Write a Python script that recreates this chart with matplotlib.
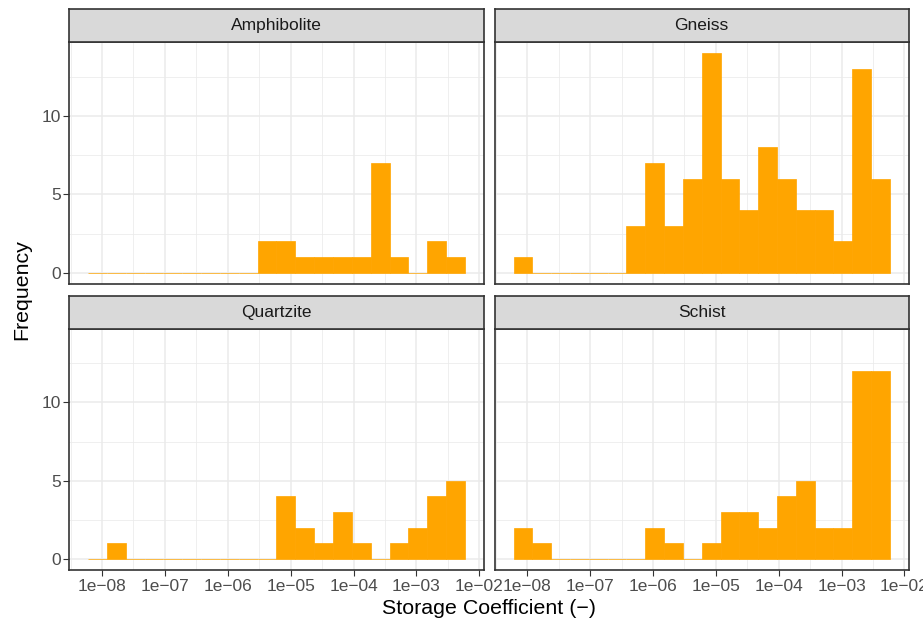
import numpy as np
import matplotlib.pyplot as plt

# histogram data: 20 bins over log10(storage coefficient)
log_lo, log_hi, n_bins = -8.22, -2.23, 20
facets = ["Amphibolite", "Gneiss", "Quartzite", "Schist"]
amphibolite = [0, 0, 0, 0, 0, 0, 0, 0, 0, 2, 2, 1, 1, 1, 1, 7, 1, 0, 2, 1]
gneiss = [1, 0, 0, 0, 0, 0, 3, 7, 3, 6, 14, 6, 4, 8, 6, 4, 4, 2, 13, 6]
quartzite = [0, 1, 0, 0, 0, 0, 0, 0, 0, 0, 4, 2, 1, 3, 1, 0, 1, 2, 4, 5]
schist = [2, 1, 0, 0, 0, 0, 0, 2, 1, 0, 1, 3, 3, 2, 4, 5, 2, 2, 12, 12]
counts = [amphibolite, gneiss, quartzite, schist]

x_breaks = [-8, -7, -6, -5, -4, -3, -2]
x_labels = ["1e\u221208", "1e\u221207", "1e\u221206", "1e\u221205", "1e\u221204", "1e\u221203", "1e\u221202"]
y_breaks = [0, 5, 10]

plt.rcParams['font.family'] = ['Liberation Sans', 'DejaVu Sans']

W, H = 923, 622
fig = plt.figure(figsize=(W / 100, H / 100), dpi=100)

edges = np.linspace(log_lo, log_hi, n_bins + 1)
bw = edges[1] - edges[0]
xlim = (log_lo - bw, log_hi + bw)
ymax = max(max(c) for c in counts)
ylim = (-0.05 * ymax, 1.05 * ymax)

# panel boxes in pixels
col_x = [(69.3, 483.7), (494.7, 908.7)]
row_y = [(42.3, 283.7), (328.7, 570.0)]
strip_h = 33.0

for i, name in enumerate(facets):
    r, c = divmod(i, 2)
    x0, x1 = col_x[c]
    y0, y1 = row_y[r]
    ax = fig.add_axes([x0 / W, 1 - y1 / H, (x1 - x0) / W, (y1 - y0) / H])

    ax.bar(edges[:-1], counts[i], width=bw, align='edge', color='#FFA500',
           edgecolor='#FFA500', linewidth=0.5, zorder=3)

    ax.set_xticks(x_breaks)
    ax.set_xticks([b + 0.5 for b in [-9] + x_breaks[:-1]], minor=True)
    ax.set_yticks(y_breaks)
    ax.set_yticks([2.5, 7.5, 12.5], minor=True)
    ax.set_xlim(xlim)
    ax.set_ylim(ylim)
    ax.grid(which='major', color='#EBEBEB', linewidth=1.1, zorder=0)
    ax.grid(which='minor', color='#EBEBEB', linewidth=0.55, zorder=0)
    ax.set_axisbelow(True)
    for s in ax.spines.values():
        s.set_color('#333333')
        s.set_linewidth(1.2)
        s.set_zorder(5)

    ax.tick_params(which='minor', length=0)
    ax.tick_params(which='major', length=4.3, width=0.8, color='#333333',
                   labelsize=12.5, labelcolor='#4D4D4D', pad=2)
    if r == 0:
        ax.tick_params(axis='x', which='major', length=0, labelbottom=False)
    else:
        ax.set_xticklabels(x_labels)
    if c == 1:
        ax.tick_params(axis='y', which='major', length=0, labelleft=False)

    # facet strip
    sa = fig.add_axes([x0 / W, 1 - y0 / H, (x1 - x0) / W, strip_h / H])
    sa.set_facecolor('#D9D9D9')
    sa.set_xticks([])
    sa.set_yticks([])
    for s in sa.spines.values():
        s.set_color('#333333')
        s.set_linewidth(1.2)
    sa.text(0.5, 0.5, name, ha='center', va='center', fontsize=12.5,
            color='#1A1A1A', transform=sa.transAxes)

fig.text((69.3 + 908.7) / 2 / W, 1 - 608 / H, "Storage Coefficient (\u2212)",
         ha='center', va='center', fontsize=15.4)
fig.text(22 / W, 1 - ((9.3 + 570) / 2) / H, "Frequency", ha='center', va='center',
         rotation=90, fontsize=15.4)

fig.savefig("out.png", dpi=100)
